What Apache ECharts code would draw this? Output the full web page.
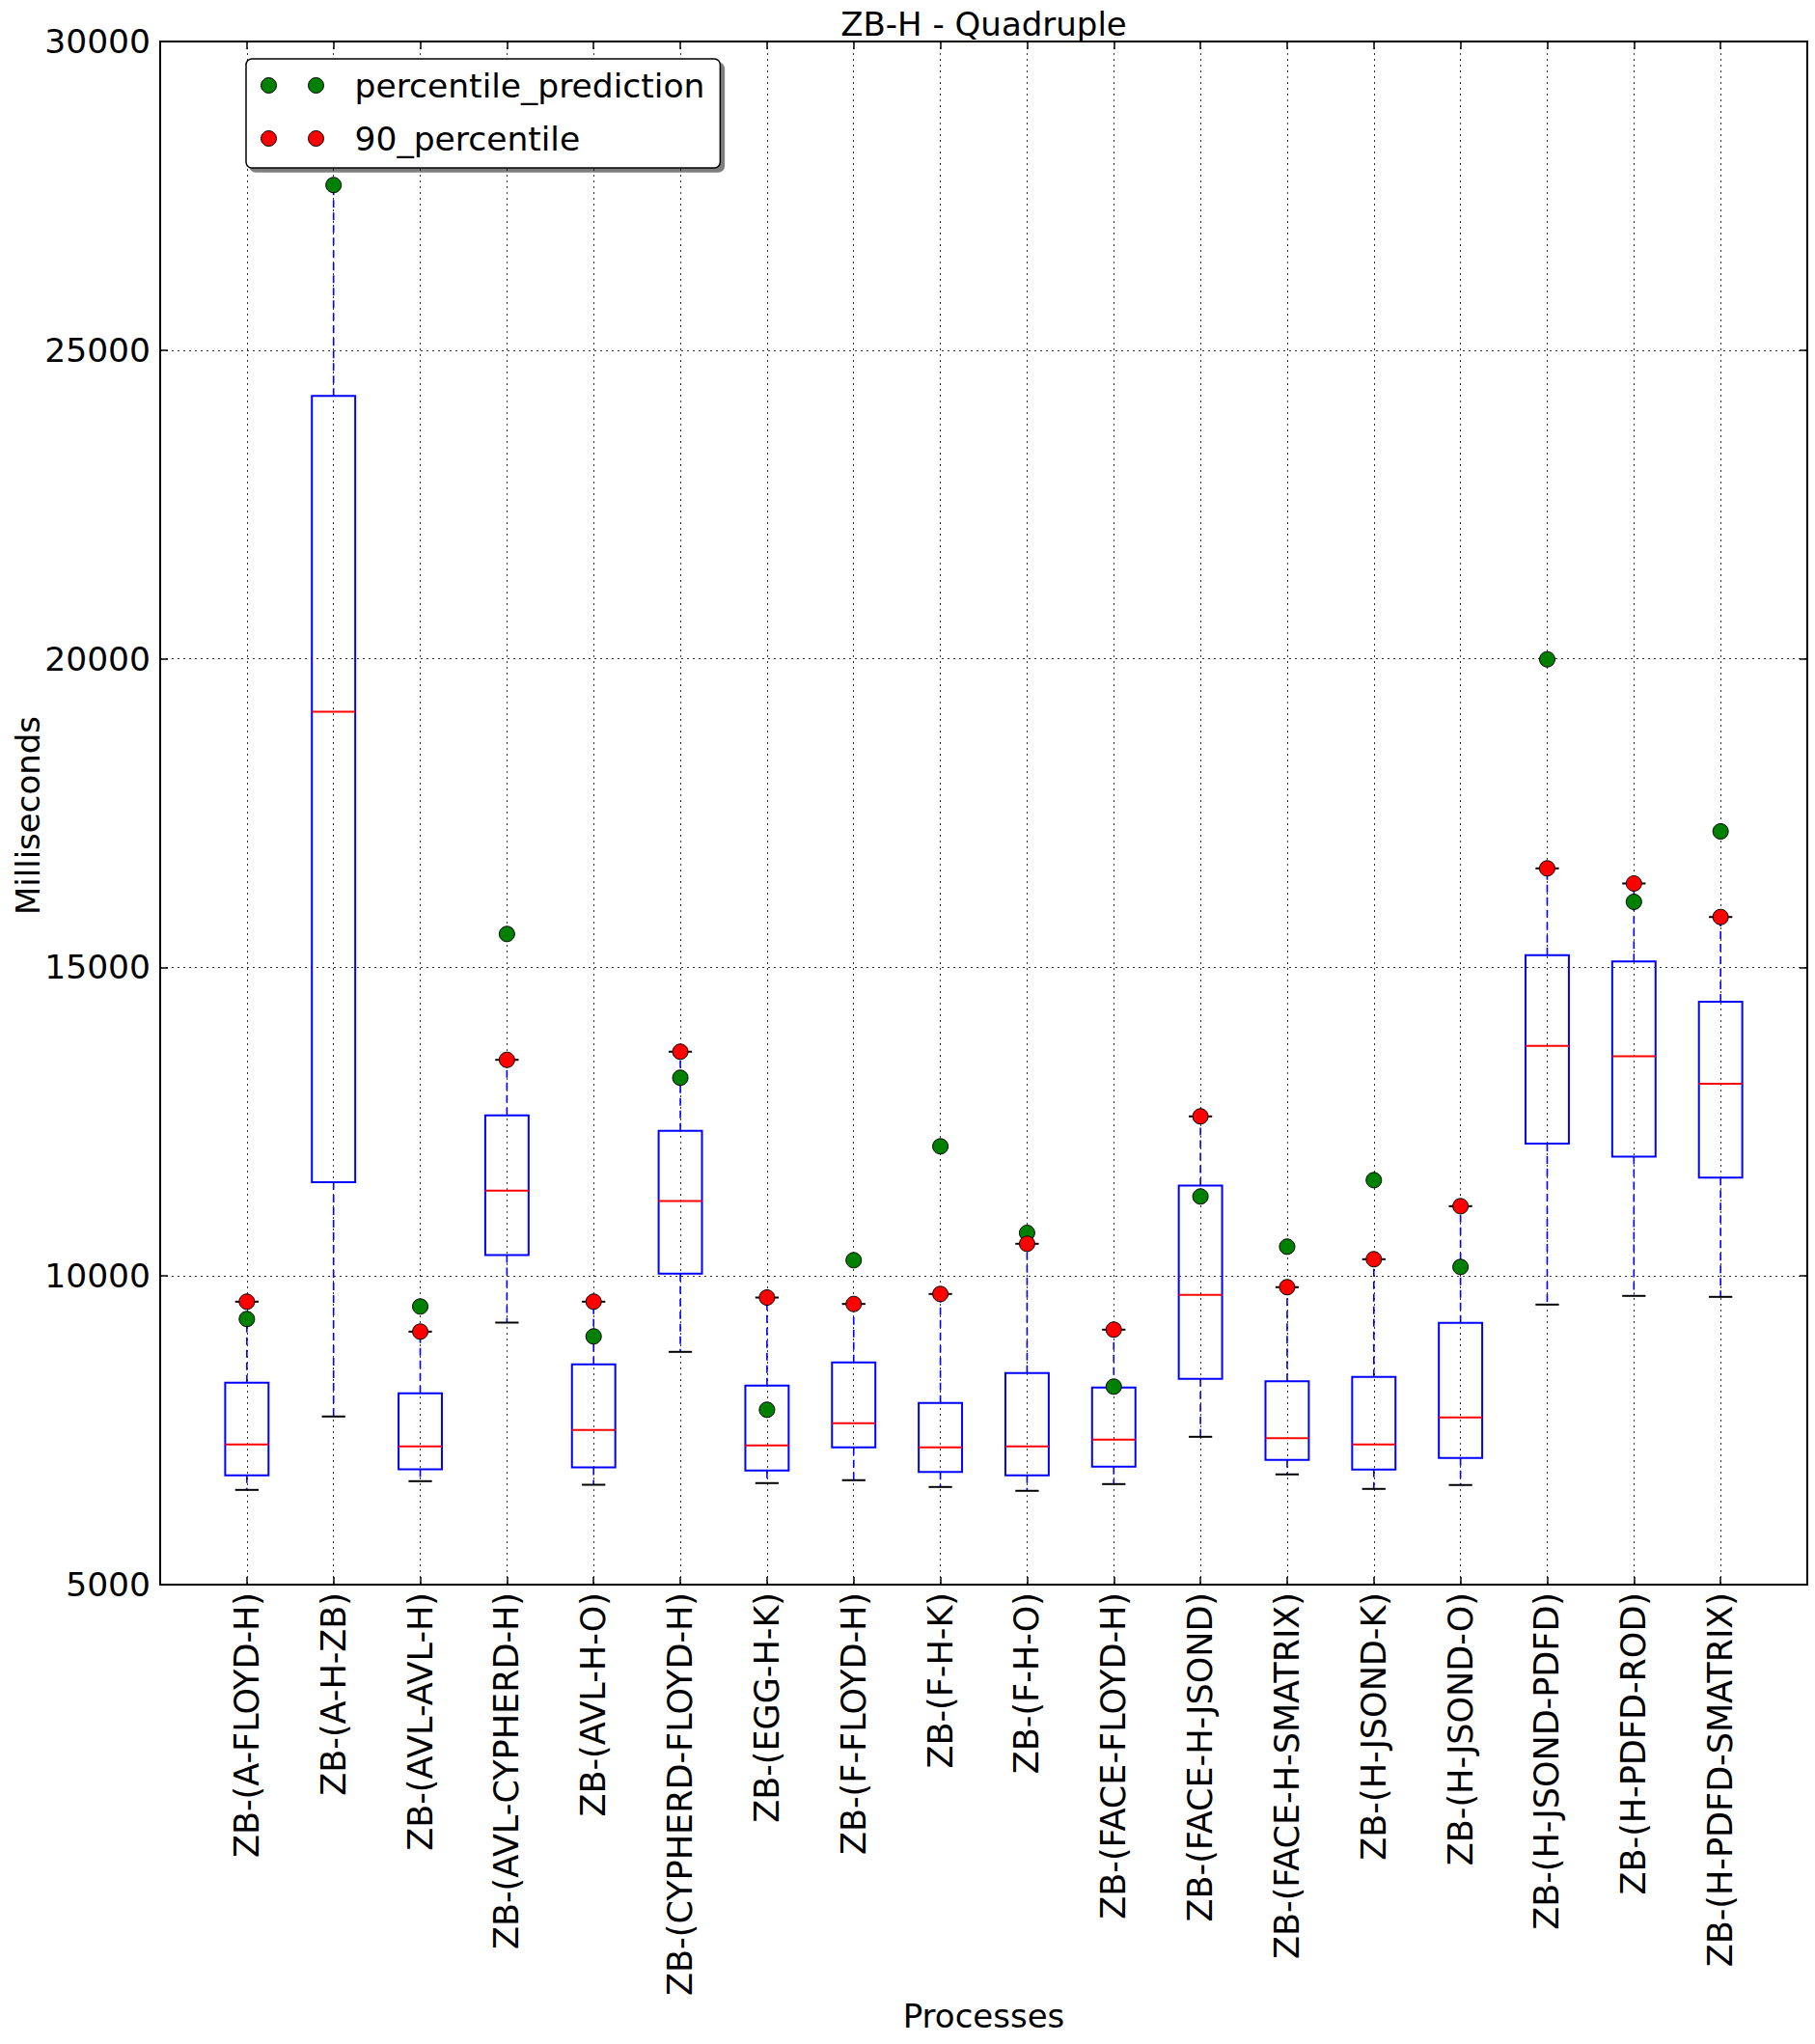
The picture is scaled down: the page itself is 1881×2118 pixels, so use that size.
<!DOCTYPE html>
<html><head><meta charset="utf-8">
<script src="https://cdn.jsdelivr.net/npm/echarts@6/dist/echarts.min.js"></script>
<style>html,body{margin:0;padding:0;background:#fff}#c{width:1881px;height:2118px}</style>
</head><body><div id="c"></div>
<script>
const categories = ['ZB-(A-FLOYD-H)','ZB-(A-H-ZB)','ZB-(AVL-AVL-H)','ZB-(AVL-CYPHERD-H)','ZB-(AVL-H-O)','ZB-(CYPHERD-FLOYD-H)','ZB-(EGG-H-K)','ZB-(F-FLOYD-H)','ZB-(F-H-K)','ZB-(F-H-O)','ZB-(FACE-FLOYD-H)','ZB-(FACE-H-JSOND)','ZB-(FACE-H-SMATRIX)','ZB-(H-JSOND-K)','ZB-(H-JSOND-O)','ZB-(H-JSOND-PDFD)','ZB-(H-PDFD-ROD)','ZB-(H-PDFD-SMATRIX)'];
const whiskerLow  = [6535, 7724, 6676, 9245, 6618, 8771, 6645, 6692, 6582, 6520, 6629, 7395, 6786, 6551, 6614, 9537, 9678, 9662];
const q1          = [6770, 11521, 6868, 10339, 6900, 10037, 6848, 7223, 6826, 6770, 6911, 8333, 7020, 6864, 7051, 12144, 11933, 11595];
const median      = [7270, 19143, 7239, 11382, 7505, 11215, 7255, 7614, 7223, 7239, 7348, 9694, 7373, 7270, 7708, 13727, 13559, 13116];
const q3          = [8271, 24259, 8099, 12602, 8568, 12351, 8224, 8599, 7942, 8427, 8193, 11465, 8296, 8365, 9240, 15197, 15097, 14445];
const whiskerHigh = [9584, 27674, 9099, 13502, 9584, 13634, 9651, 9547, 9709, 10522, 9131, 12586, 9819, 10272, 11131, 16604, 16359, 15816];
const percentile90 = [9584, null, 9099, 13502, 9584, 13634, 9651, 9547, 9709, 10522, 9131, 12586, 9819, 10272, 11131, 16604, 16359, 15816];
const percentilePrediction = [9303, 27674, 9506, 15541, 9021, 13212, 7833, 10256, 12101, 10699, 8208, 11288, 10475, 11553, 10147, 19991, 16062, 17203];
const yTicks = [5000, 10000, 15000, 20000, 25000, 30000];

const FONT = 'DejaVu Sans';
const chart = echarts.init(document.getElementById('c'), null, {renderer: 'svg', width: 1881, height: 2118});
const xCats = [''].concat(categories, ['']);

const boxData = categories.map((c, i) => [i + 1, whiskerLow[i], q1[i], median[i], q3[i], whiskerHigh[i], percentile90[i] == null ? 0 : 1]);
const greenData = percentilePrediction.map((v, i) => [i + 1, v]).filter(d => d[1] != null);
const redData = percentile90.map((v, i) => [i + 1, v]).filter(d => d[1] != null);

const ICON = 'path://M0,8a8,8 0 1,0 16,0a8,8 0 1,0 -16,0zM49,8a8,8 0 1,0 16,0a8,8 0 1,0 -16,0zM92,8';

function renderBox(params, api) {
  const x = api.value(0);
  const pLo = api.coord([x, api.value(1)]);
  const pQ1 = api.coord([x, api.value(2)]);
  const pMed = api.coord([x, api.value(3)]);
  const pQ3 = api.coord([x, api.value(4)]);
  const pHi = api.coord([x, api.value(5)]);
  const band = api.size([1, 0])[0];
  const hw = band * 0.25, cw = band * 0.135;
  const cx = pMed[0];
  const dash = {stroke: '#0000ff', lineWidth: 1.6, lineDash: [8, 5], fill: null};
  const children = [
    {type: 'line', shape: {x1: cx, y1: pQ1[1], x2: cx, y2: pLo[1]}, style: dash},
    {type: 'line', shape: {x1: cx, y1: pQ3[1], x2: cx, y2: pHi[1]}, style: dash},
    {type: 'line', shape: {x1: cx - cw, y1: pLo[1], x2: cx + cw, y2: pLo[1]}, style: {stroke: '#000', lineWidth: 2}},
    {type: 'rect', shape: {x: cx - hw, y: pQ3[1], width: 2 * hw, height: pQ1[1] - pQ3[1]}, style: {stroke: '#0000ff', lineWidth: 2, fill: null}},
    {type: 'line', shape: {x1: cx - hw, y1: pMed[1], x2: cx + hw, y2: pMed[1]}, style: {stroke: '#ff0000', lineWidth: 2}}
  ];
  if (api.value(6)) {
    children.push({type: 'line', shape: {x1: cx - cw, y1: pHi[1], x2: cx + cw, y2: pHi[1]}, style: {stroke: '#000', lineWidth: 2}});
  }
  return {type: 'group', children};
}

const dotted = {type: [2, 4], color: '#333', width: 1};
const option = {
  animation: false,
  backgroundColor: '#fff',
  textStyle: {fontFamily: FONT},
  grid: {left: 166, right: 8, top: 43, bottom: 476, show: true, borderColor: '#000', borderWidth: 2, backgroundColor: 'transparent'},
  legend: {
    orient: 'vertical', left: 255, top: 61,
    itemWidth: 92, itemHeight: 16, itemGap: 20,
    padding: [10, 16, 13, 15],
    backgroundColor: '#fff', borderColor: '#000', borderWidth: 1.5, borderRadius: 6,
    shadowColor: 'rgba(0,0,0,0.5)', shadowBlur: 0, shadowOffsetX: 4, shadowOffsetY: 4,
    textStyle: {fontFamily: FONT, fontSize: 34.5, color: '#000'},
    data: [
      {name: 'percentile_prediction', icon: ICON, itemStyle: {color: '#008000', borderColor: '#000', borderWidth: 1}},
      {name: '90_percentile', icon: ICON, itemStyle: {color: '#ff0000', borderColor: '#000', borderWidth: 1}}
    ]
  },
  xAxis: [
    {type: 'category', data: xCats, boundaryGap: false,
     axisLine: {lineStyle: {color: '#000', width: 2}},
     axisTick: {inside: true, length: 8, interval: 0, lineStyle: {color: '#000', width: 1.5}},
     axisLabel: {rotate: 90, interval: 0, fontSize: 35, fontFamily: FONT, color: '#000', margin: 8},
     splitLine: {show: true, interval: 0, lineStyle: dotted}},
    {type: 'category', data: xCats, boundaryGap: false, position: 'top',
     axisLine: {lineStyle: {color: '#000', width: 2}},
     axisTick: {inside: true, length: 8, interval: 0, lineStyle: {color: '#000', width: 1.5}},
     axisLabel: {show: false}, splitLine: {show: false}}
  ],
  yAxis: [
    {type: 'value', min: 5000, max: 30000, interval: 5000,
     axisLine: {show: true, lineStyle: {color: '#000', width: 2}},
     axisTick: {show: true, inside: true, length: 8, lineStyle: {color: '#000', width: 1.5}},
     axisLabel: {fontSize: 34.5, fontFamily: FONT, color: '#000', margin: 10,
       formatter: v => yTicks.indexOf(v) >= 0 ? String(v) : ''},
     splitLine: {show: true, lineStyle: dotted}},
    {type: 'value', min: 5000, max: 30000, interval: 5000, position: 'right',
     axisLine: {show: true, lineStyle: {color: '#000', width: 2}},
     axisTick: {show: true, inside: true, length: 8, lineStyle: {color: '#000', width: 1.5}},
     axisLabel: {show: false}, splitLine: {show: false}}
  ],
  graphic: [
    {type: 'text', x: 1019.5, y: 25, style: {text: 'ZB-H - Quadruple', font: '34px "DejaVu Sans"', fill: '#000', align: 'center', verticalAlign: 'middle'}},
    {type: 'text', x: 29, y: 845, rotation: Math.PI / 2, style: {text: 'Milliseconds', font: '34px "DejaVu Sans"', fill: '#000', align: 'center', verticalAlign: 'middle'}},
    {type: 'text', x: 1019.5, y: 2089, style: {text: 'Processes', font: '34px "DejaVu Sans"', fill: '#000', align: 'center', verticalAlign: 'middle'}}
  ],
  series: [
    {type: 'custom', name: 'box', renderItem: renderBox, data: boxData, clip: false, z: 2, silent: true},
    {type: 'scatter', name: 'percentile_prediction', data: greenData, symbol: 'circle', symbolSize: 16,
     itemStyle: {color: '#008000', borderColor: '#000', borderWidth: 1, opacity: 1}, z: 3},
    {type: 'scatter', name: '90_percentile', data: redData, symbol: 'circle', symbolSize: 16,
     itemStyle: {color: '#ff0000', borderColor: '#000', borderWidth: 1, opacity: 1}, z: 4}
  ]
};
chart.setOption(option);
</script>
</body></html>
